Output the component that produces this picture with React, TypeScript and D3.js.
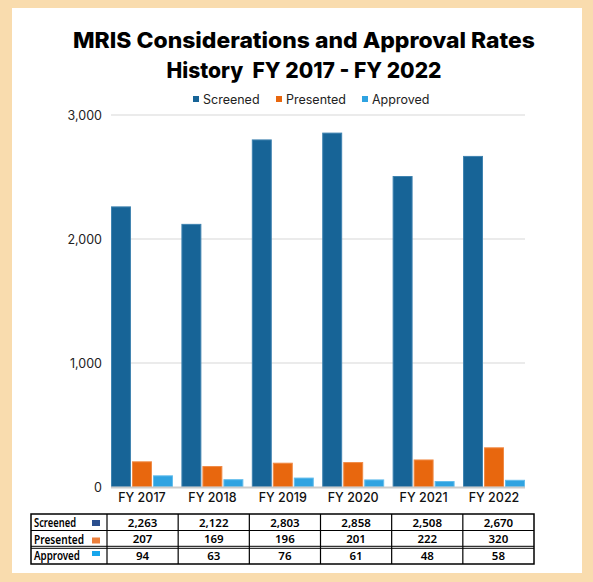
import React from "react";
import * as d3 from "d3";

const categories = ["FY 2017", "FY 2018", "FY 2019", "FY 2020", "FY 2021", "FY 2022"];
const seriesNames = ["Screened", "Presented", "Approved"];
const screened = [2263, 2122, 2803, 2858, 2508, 2670];
const presented = [207, 169, 196, 201, 222, 320];
const approved = [94, 63, 76, 61, 48, 58];
const yTicks = [0, 1000, 2000, 3000];
const titleLines = ["MRIS Considerations and Approval Rates", "History  FY 2017 - FY 2022"];

const seriesValues = [screened, presented, approved];
const fills = ["#176497", "#e8670e", "#2fa3e1"];
const strokes = ["#3f83b0", "#f08a45", "#62bdec"];
const tableSwatch = ["#2b4f8e", "#ec7f3b", "#18a6ec"];

export default function App() {
  const W = 593, H = 582;
  const x0 = d3.scaleBand<string>().domain(categories).range([111, 525]).paddingInner(0.12).paddingOuter(0);
  const x1 = d3.scaleBand<string>().domain(seriesNames).range([0, x0.bandwidth()]).paddingInner(0.05);
  const y = d3.scaleLinear().domain([0, 3000]).range([487, 115]);
  const fmt = d3.format(",");

  const tX0 = 31, tX1 = 534, tHead = 107;
  const colX = d3.scaleBand<string>().domain(categories).range([tHead, tX1]);
  const rowY = [514, 530.5, 547.5, 564];
  const tableFont = "'Noto Sans', 'Liberation Sans', sans-serif";
  const headLen = [42, 50, 46];

  return (
    <svg width={W} height={H} style={{ position: "absolute", left: 0, top: 0 }} xmlns="http://www.w3.org/2000/svg">
      <rect x={0} y={0} width={W} height={H} fill="#f9dcae" />
      <rect x={12} y={8} width={570} height={565} fill="#ffffff" />

      <text x={304} y={48} textAnchor="middle" fontFamily="Inter, 'Open Sans', sans-serif" fontWeight={800} fontSize={22} fill="#000"
        textLength={462} lengthAdjust="spacingAndGlyphs">{titleLines[0]}</text>
      <text x={304} y={78} textAnchor="middle" fontFamily="Inter, 'Open Sans', sans-serif" fontWeight={800} fontSize={22} fill="#000"
        textLength={275} lengthAdjust="spacingAndGlyphs" style={{ whiteSpace: "pre" }}>{titleLines[1]}</text>

      {seriesNames.map((s, i) => {
        const lx = [193, 276, 362][i];
        return (
          <g key={s}>
            <rect x={lx} y={96} width={6} height={6} fill={fills[i]} />
            <text x={lx + 10} y={103.5} fontFamily="Inter, 'Noto Sans', sans-serif" fontSize={12.5} fill="#222">{s}</text>
          </g>
        );
      })}

      {yTicks.map((t) => (
        <g key={t}>
          {t > 0 && <line x1={111} x2={525} y1={y(t)} y2={y(t)} stroke="#e4e4e4" strokeWidth={1.5} />}
          <text x={102} y={y(t) + 4.5} textAnchor="end" fontFamily="Inter, 'Noto Sans', sans-serif" fontSize={12.5} fill="#222">{fmt(t)}</text>
        </g>
      ))}

      {categories.map((c, ci) => (
        <g key={c} transform={`translate(${x0(c)},0)`}>
          {seriesNames.map((s, si) => {
            const v = seriesValues[si][ci];
            return (
              <rect key={s} x={(x1(s) as number) + 0.5} y={y(v) + 0.5} width={x1.bandwidth() - 1} height={Math.max(0, y(0) - y(v) - 0.5)}
                fill={fills[si]} stroke={strokes[si]} strokeWidth={1} />
            );
          })}
          <text x={x0.bandwidth() / 2} y={502} textAnchor="middle" fontFamily="Inter, 'Noto Sans', sans-serif" fontWeight={500} fontSize={12.5} fill="#111">{c}</text>
        </g>
      ))}
      <line x1={111} x2={525} y1={y(0) + 0.5} y2={y(0) + 0.5} stroke="#cccccc" strokeWidth={2} />

      <g>
        {seriesNames.map((s, ri) => (
          <g key={s}>
            <text x={tX0 + 3} y={(rowY[ri] + rowY[ri + 1]) / 2 + 4.5} fontFamily={tableFont} fontWeight={600} fontSize={12.5} fill="#000"
              textLength={headLen[ri]} lengthAdjust="spacingAndGlyphs">{s}</text>
            <rect x={92} y={[520, 537.5, 551][ri]} width={8} height={[6, 6, 5][ri]} fill={tableSwatch[ri]} />
            {categories.map((c, ci) => (
              <text key={c} x={(colX(c) as number) + colX.bandwidth() / 2} y={(rowY[ri] + rowY[ri + 1]) / 2 + 4.3}
                textAnchor="middle" fontFamily={tableFont} fontWeight={600} fontSize={11.5} fill="#000">{fmt(seriesValues[ri][ci])}</text>
            ))}
          </g>
        ))}
        <rect x={tX0} y={rowY[0]} width={tX1 - tX0} height={rowY[3] - rowY[0]} fill="none" stroke="#000" strokeWidth={1.5} />
        <line x1={tX0} x2={tX1} y1={rowY[1]} y2={rowY[1]} stroke="#000" strokeWidth={1} />
        <line x1={tX0} x2={tX1} y1={rowY[2] - 1.2} y2={rowY[2] - 1.2} stroke="#000" strokeWidth={1} />
        <line x1={tX0} x2={tX1} y1={rowY[2] + 0.8} y2={rowY[2] + 0.8} stroke="#000" strokeWidth={1} />
        {[tHead, ...categories.slice(1).map((c) => colX(c) as number)].map((xx, i) => (
          <line key={i} x1={xx} x2={xx} y1={rowY[0]} y2={rowY[3]} stroke="#000" strokeWidth={1.2} />
        ))}
      </g>
    </svg>
  );
}
